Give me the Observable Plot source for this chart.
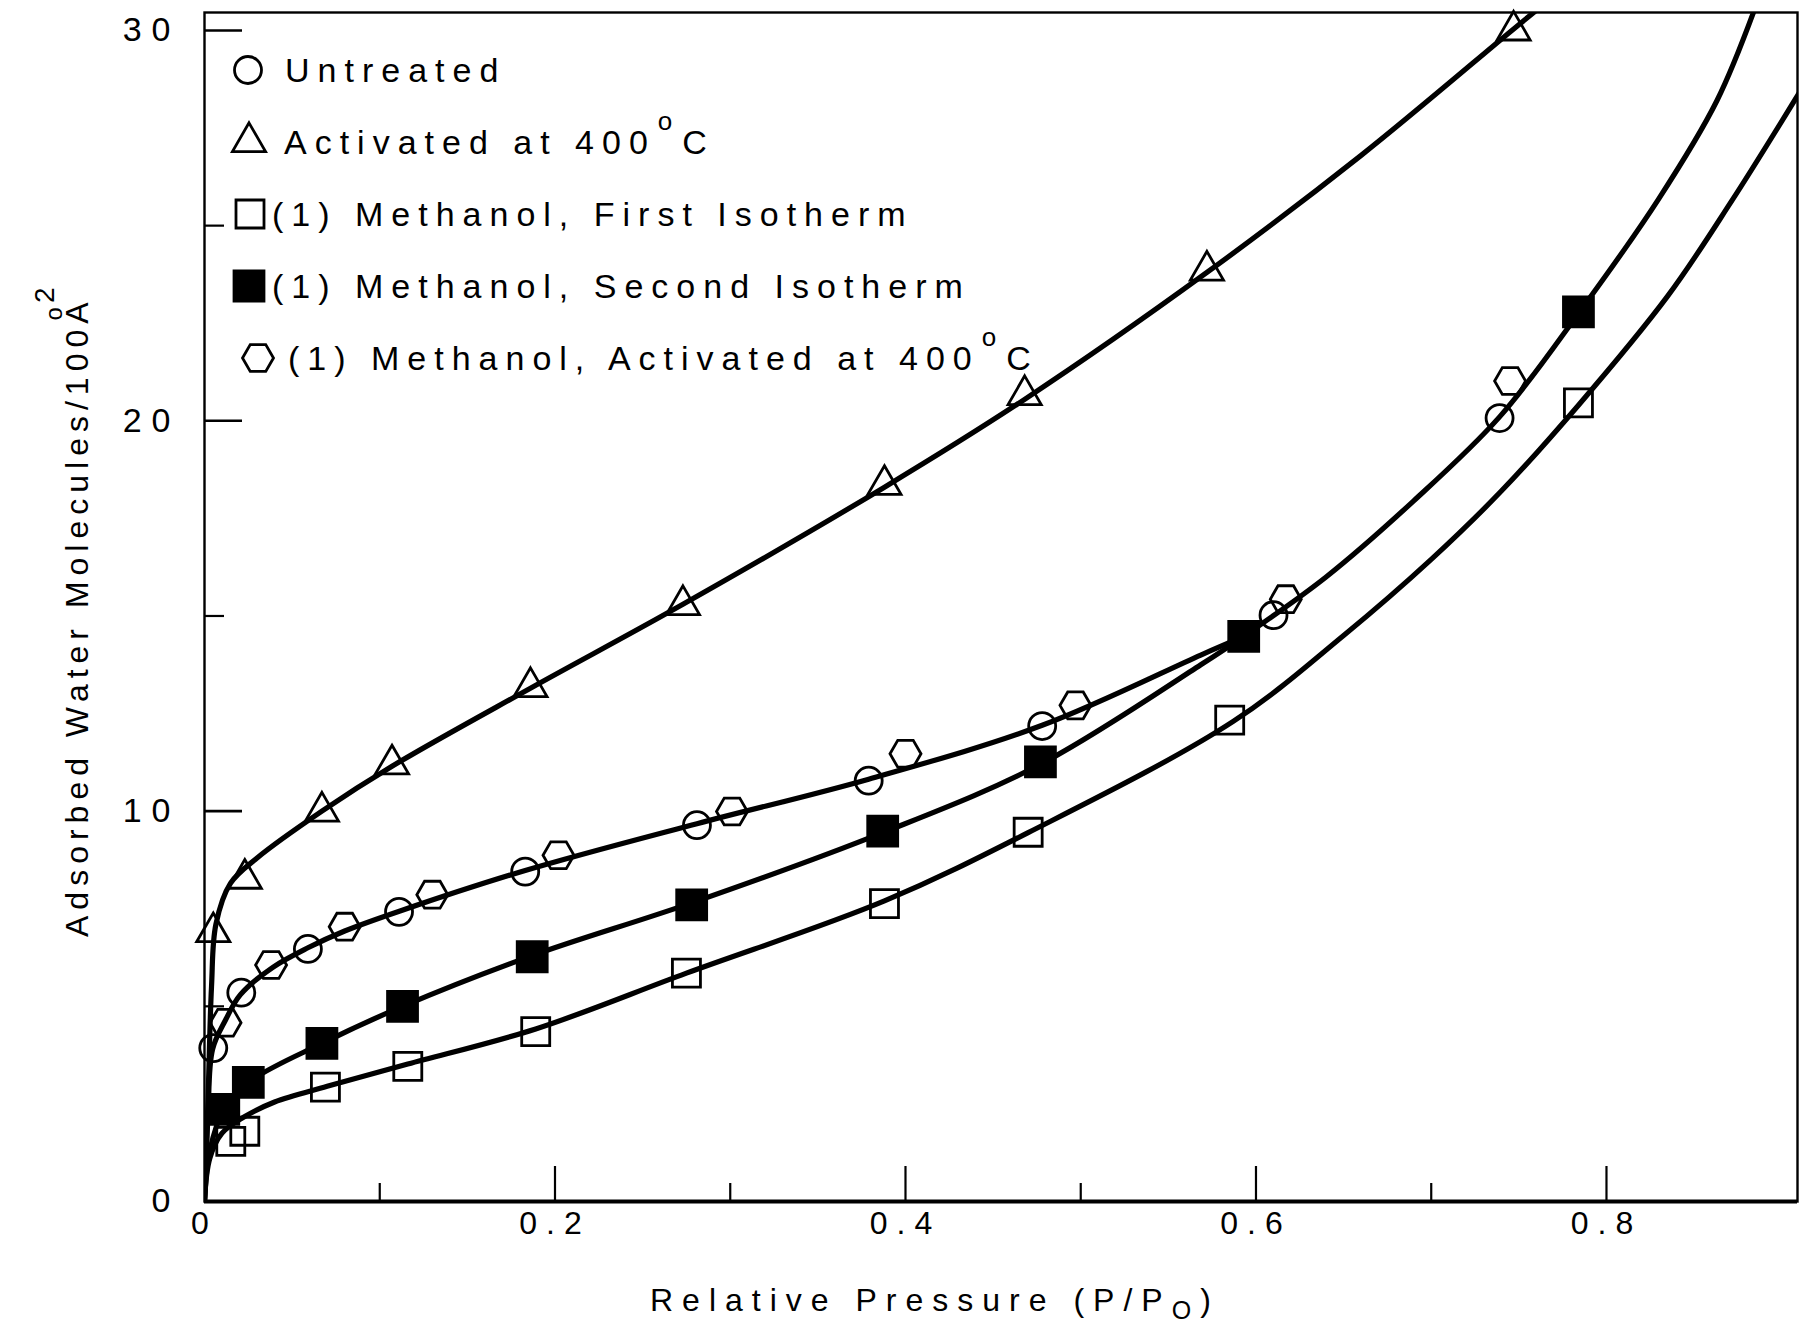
<!DOCTYPE html>
<html>
<head>
<meta charset="utf-8">
<script src="https://cdn.jsdelivr.net/npm/d3@7"></script>
<script src="https://cdn.jsdelivr.net/npm/@observablehq/plot@0.6"></script>
<style>
  html, body { margin: 0; padding: 0; background: #fff; }
  #chart svg { display: block; }
</style>
</head>
<body>
<div id="chart"></div>
<script>
// Water adsorption isotherms: relative pressure (P/P0) against adsorbed water
// molecules per 100 Å², for several pretreatments of the sample.

// Measured points, one array per treatment: [P/P0, molecules per 100 Å²]
const untreated = [
  [0.005, 3.93], [0.021, 5.35], [0.059, 6.47], [0.111, 7.42], [0.183, 8.45],
  [0.281, 9.64], [0.379, 10.78], [0.478, 12.18], [0.610, 15.02], [0.739, 20.07]
];
const activated400 = [
  [0.005, 6.9], [0.023, 8.27], [0.067, 9.99], [0.107, 11.2], [0.186, 13.18],
  [0.273, 15.28], [0.388, 18.36], [0.468, 20.66], [0.572, 23.85], [0.747, 30.0]
];
const methanolFirst = [
  [0.015, 1.54], [0.023, 1.8], [0.069, 2.93], [0.116, 3.46], [0.189, 4.35],
  [0.275, 5.85], [0.388, 7.63], [0.470, 9.46], [0.585, 12.33], [0.784, 20.46]
];
const methanolSecond = [
  [0.011, 2.36], [0.025, 3.05], [0.067, 4.05], [0.113, 5.0], [0.187, 6.27],
  [0.278, 7.6], [0.387, 9.49], [0.477, 11.26], [0.593, 14.48], [0.784, 22.79]
];
const methanolActivated = [
  [0.012, 4.58], [0.038, 6.06], [0.080, 7.04], [0.130, 7.86], [0.202, 8.87],
  [0.301, 9.99], [0.400, 11.47], [0.497, 12.71], [0.617, 15.43], [0.745, 21.02]
];

// Smoothed isotherm curves drawn through the points
const curveActivated = [
  [0, 0], [0.002, 2.6], [0.004, 5.5], [0.0065, 7.1], [0.0148, 8.15], [0.03, 8.8],
  [0.067, 10.0], [0.107, 11.15], [0.186, 13.15], [0.273, 15.3], [0.388, 18.3],
  [0.468, 20.55], [0.572, 23.8], [0.66, 26.8], [0.746, 30.0], [0.765, 30.7]
];
// shared by the untreated and methanol-activated samples; meets the second isotherm
const curveUntreated = [
  [0, 0], [0.002, 2.2], [0.0046, 3.9], [0.012, 4.65], [0.0205, 5.3], [0.039, 6.0],
  [0.059, 6.5], [0.08, 6.93], [0.112, 7.45], [0.183, 8.48], [0.281, 9.68],
  [0.379, 10.82], [0.478, 12.2], [0.5685, 14.0], [0.593, 14.48]
];
const curveSecond = [
  [0, 0], [0.003, 1.3], [0.011, 2.35], [0.025, 3.05], [0.067, 4.05], [0.113, 5.0],
  [0.187, 6.3], [0.278, 7.65], [0.387, 9.45], [0.477, 11.2], [0.5685, 13.75],
  [0.593, 14.48], [0.64, 16.0], [0.69, 17.95], [0.739, 20.1], [0.784, 22.75],
  [0.83, 25.7], [0.863, 28.2], [0.885, 30.6]
];
const curveFirst = [
  [0, 0], [0.003, 1.1], [0.01, 1.75], [0.022, 2.15], [0.04, 2.55], [0.07, 2.95],
  [0.116, 3.52], [0.189, 4.42], [0.275, 5.85], [0.388, 7.7], [0.47, 9.45],
  [0.587, 12.3], [0.65, 14.5], [0.70, 16.45], [0.74, 18.2], [0.784, 20.4],
  [0.835, 23.2], [0.871, 25.6], [0.91, 28.4]
];

// Axis ticks
const xTickLabels = [0, 0.2, 0.4, 0.6, 0.8];
const xMajorTicks = [0.2, 0.4, 0.6, 0.8];
const xMinorTicks = [0.1, 0.3, 0.5, 0.7];
const yMajorTicks = [0, 10, 20, 30];
const yMinorTicks = [5, 15, 25];

// Legend entries ("°" is typeset as a raised small o)
const legendLabels = [
  "Untreated",
  "Activated at 400°C",
  "(1) Methanol, First Isotherm",
  "(1) Methanol, Second Isotherm",
  "(1) Methanol, Activated at 400°C"
];

// ---------------------------------------------------------------------------
const W = 1809, H = 1327;
const margin = {top: 12, right: 12, bottom: 126, left: 204};
const innerW = W - margin.left - margin.right;
const innerH = H - margin.top - margin.bottom;
const FONT = "'Liberation Sans', Arial, Helvetica, sans-serif";

// flat-topped hexagon symbol; circumradius equals the dot radius
const hexagon = {
  draw(ctx, size) {
    const R = Math.sqrt(size / Math.PI), h = R * Math.sqrt(3) / 2;
    ctx.moveTo(R, 0);
    ctx.lineTo(R / 2, h);
    ctx.lineTo(-R / 2, h);
    ctx.lineTo(-R, 0);
    ctx.lineTo(-R / 2, -h);
    ctx.lineTo(R / 2, -h);
    ctx.closePath();
  }
};

const xy = {x: (d) => d[0], y: (d) => d[1]};
const curveStyle = {...xy, curve: "catmull-rom", stroke: "#000", strokeWidth: 5.2, clip: true};
const dotStyle = {...xy, stroke: "#000", strokeWidth: 2.8, fill: "none"};

const series = [
  {symbol: d3.symbolCircle, r: 13.5, fill: "none"},
  {symbol: d3.symbolTriangle, r: 12.3, fill: "none"},
  {symbol: d3.symbolSquare, r: 15.8, fill: "none"},
  {symbol: d3.symbolSquare, r: 16.9, fill: "#000"},
  {symbol: hexagon, r: 15.5, fill: "none"}
];

const chart = Plot.plot({
  width: W,
  height: H,
  marginTop: margin.top,
  marginRight: margin.right,
  marginBottom: margin.bottom,
  marginLeft: margin.left,
  x: {
    domain: [0, 0.909], ticks: xTickLabels, tickSize: 0, tickPadding: 10,
    tickFormat: (d) => (d === 0 ? "0" : d.toFixed(1)), label: null
  },
  y: {domain: [0, 30.46], ticks: yMajorTicks, tickSize: 0, tickPadding: 24, label: null},
  style: {fontFamily: FONT, fontSize: "32px", color: "#000", background: "#fff"},
  marks: [
    Plot.line(curveActivated, curveStyle),
    Plot.line(curveUntreated, curveStyle),
    Plot.line(curveSecond, curveStyle),
    Plot.line(curveFirst, curveStyle),
    Plot.dot(untreated, {...dotStyle, symbol: series[0].symbol, r: series[0].r}),
    Plot.dot(activated400, {...dotStyle, symbol: series[1].symbol, r: series[1].r}),
    Plot.dot(methanolFirst, {...dotStyle, symbol: series[2].symbol, r: series[2].r}),
    Plot.dot(methanolSecond, {...dotStyle, symbol: series[3].symbol, r: series[3].r, fill: "#000"}),
    Plot.dot(methanolActivated, {...dotStyle, symbol: series[4].symbol, r: series[4].r}),
    Plot.tickX(xMajorTicks, {x: (d) => d, insetTop: innerH - 35, stroke: "#000", strokeWidth: 2.2}),
    Plot.tickX(xMinorTicks, {x: (d) => d, insetTop: innerH - 18, stroke: "#000", strokeWidth: 2.2}),
    Plot.tickY(yMajorTicks, {y: (d) => d, insetRight: innerW - 38, stroke: "#000", strokeWidth: 2.6}),
    Plot.tickY(yMinorTicks, {y: (d) => d, insetRight: innerW - 20, stroke: "#000", strokeWidth: 2.2}),
    Plot.frame({stroke: "#000", strokeWidth: 2.4}),
    Plot.ruleY([0], {stroke: "#000", strokeWidth: 4})
  ]
});

document.getElementById("chart").append(chart);
const svg = d3.select(chart);

// spaced-out lettering of the tick labels
svg.selectAll("[aria-label='x-axis tick label'] text, [aria-label='x-axis'] text")
  .attr("letter-spacing", 9);
svg.selectAll("[aria-label='y-axis tick label'] text, [aria-label='y-axis'] text")
  .attr("letter-spacing", 10).attr("font-size", 34);

// x-axis title with subscript
const xTitle = svg.append("text")
  .attr("x", 650).attr("y", 1311).attr("text-anchor", "start")
  .attr("font-family", FONT).attr("font-size", 32).attr("letter-spacing", 9)
  .attr("fill", "#000");
xTitle.append("tspan").text("Relative Pressure (P/P");
xTitle.append("tspan").attr("font-size", 25).attr("dy", 8).text("O");
xTitle.append("tspan").attr("dy", -8).text(")");

// y-axis title, rotated, with ring over the A and squared exponent
const yTitle = svg.append("text")
  .attr("transform", "translate(88,937) rotate(-90)").attr("text-anchor", "start")
  .attr("font-family", FONT).attr("font-size", 32).attr("letter-spacing", 6)
  .attr("fill", "#000");
yTitle.append("tspan").text("Adsorbed Water Molecules/100A");
yTitle.append("tspan").attr("font-size", 24).attr("dx", -24).attr("dy", -26).text("o");
yTitle.append("tspan").attr("font-size", 28).attr("dx", -2).attr("dy", -8).text("2");

// legend in the upper-left corner of the frame
const legend = svg.append("g").attr("font-family", FONT).attr("font-size", 34)
  .attr("letter-spacing", 8).attr("fill", "#000").attr("text-anchor", "start");
const rowTop = 70, rowStep = 72;
const symbolX = [248, 249, 250, 249, 258];
const textX = [285, 284, 272, 272, 288];
legendLabels.forEach((label, i) => {
  const cy = rowTop + i * rowStep;
  const s = series[i];
  legend.append("path")
    .attr("transform", `translate(${symbolX[i]},${cy})`)
    .attr("d", d3.symbol(s.symbol, s.r * s.r * Math.PI)())
    .attr("fill", s.fill).attr("stroke", "#000").attr("stroke-width", 2.8);
  const t = legend.append("text").attr("x", textX[i]).attr("y", cy + 12);
  const parts = label.split("°");
  t.append("tspan").text(parts[0]);
  if (parts.length > 1) {
    t.append("tspan").attr("font-size", 26).attr("dy", -24).attr("dx", 2).text("o");
    t.append("tspan").attr("dy", 24).attr("dx", 2).text(parts[1]);
  }
});
</script>
</body>
</html>
